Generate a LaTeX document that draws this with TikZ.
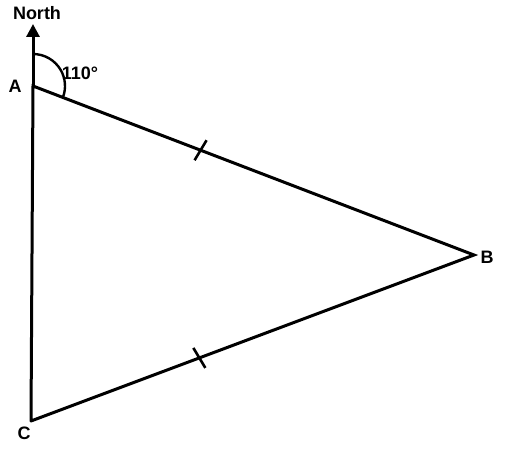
\documentclass[tikz,border=0pt]{standalone}
\usepackage{fontspec}
\setmainfont{Liberation Sans}
\usetikzlibrary{arrows.meta,calc}
\begin{document}
\begin{tikzpicture}[x=1pt,y=-1pt,
  edge/.style={line width=3pt,line cap=round},
  lbl/.style={font=\bfseries\fontsize{18}{18}\selectfont,inner sep=0pt},
  tick/.style={line width=2.6pt}]
\useasboundingbox (0,0) rectangle (520,460);
\coordinate (A) at (33,86);
\coordinate (B) at (474,255);
\coordinate (C) at (31,421);
\coordinate (N) at (33,24);
\draw[edge] (C) -- (A) -- (B) -- (C);
\draw[edge,-{Triangle[length=13pt,width=13pt]}] (A) -- (N);
\draw[line width=2.4pt] ($(A)+(0,-32)$) arc[start angle=-90,end angle=21,radius=32];
\node[lbl] (north) at (37,13) {North};
\node[lbl] (la) at (15,86) {A};
\node[lbl] (lb) at (487,257) {B};
\node[lbl] (lc) at (24,433) {C};
\node[lbl] (ang) at (80,73) {110°};
\draw[tick] ($(A)!0.38!(B)+(-6,10)$) -- ++(12,-20);
\draw[tick] ($(C)!0.38!(B)+(-6,-10)$) -- ++(12,20);
\end{tikzpicture}
\end{document}
